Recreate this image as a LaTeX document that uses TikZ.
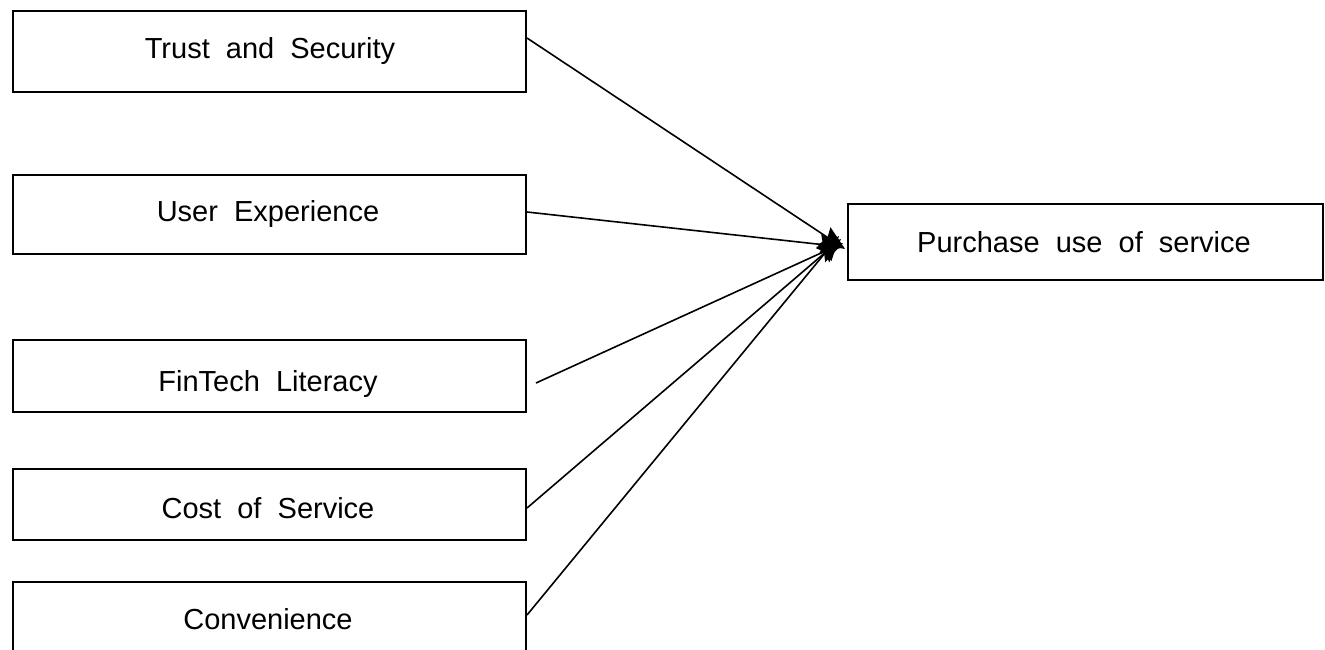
\documentclass[tikz,border=0pt]{standalone}
\usepackage{fontspec}
\setmainfont{Liberation Sans}[WordSpace=2]
\usetikzlibrary{arrows.meta}
\begin{document}
\begin{tikzpicture}[x=1pt,y=-1pt,
  box/.style={draw=black,line width=2pt,rectangle,inner sep=0pt,anchor=north west},
  lbl/.style={font=\fontsize{29}{34}\selectfont,inner sep=0pt},
  conn/.style={draw=black,line width=1.6pt,-{Stealth[length=24pt,width=20pt,inset=3pt]}}]
\useasboundingbox (0,0) rectangle (1325,649);
\fill[white] (0,0) rectangle (1325,649);
% boxes
\node[box,minimum width=513pt,minimum height=81pt] (b1) at (12,10) {};
\node[box,minimum width=513pt,minimum height=79pt] (b2) at (12,174) {};
\node[box,minimum width=513pt,minimum height=72pt] (b3) at (12,339) {};
\node[box,minimum width=513pt,minimum height=71pt] (b4) at (12,468) {};
\node[box,minimum width=513pt,minimum height=90pt] (b5) at (12,581) {};
\node[box,minimum width=475pt,minimum height=76pt] (t) at (847,203) {};
% labels
\node[lbl] (l1) at (270,51) {Trust and Security};
\node[lbl] (l2) at (268,214) {User Experience};
\node[lbl] (l3) at (268,384) {FinTech Literacy};
\node[lbl] (l4) at (268,508) {Cost of Service};
\node[lbl] (l5) at (268,619) {Convenience};
\node[lbl] (l6) at (1084,242) {Purchase use of service};
% connector start points
\coordinate (s1) at (527,38);
\coordinate (s2) at (527,212);
\coordinate (s3) at (536,383);
\coordinate (s4) at (527,508);
\coordinate (s5) at (527,615);
\draw[conn] (s1) -- ([xshift=-2pt,yshift=-7pt]t.west);
\draw[conn] (s2) -- ([xshift=-3pt,yshift=-5pt]t.west);
\draw[conn] (s3) -- ([xshift=-4pt,yshift=-1pt]t.west);
\draw[conn] (s4) -- ([xshift=-6pt,yshift=3pt]t.west);
\draw[conn] (s5) -- ([xshift=-8pt,yshift=6pt]t.west);
\end{tikzpicture}
\end{document}
